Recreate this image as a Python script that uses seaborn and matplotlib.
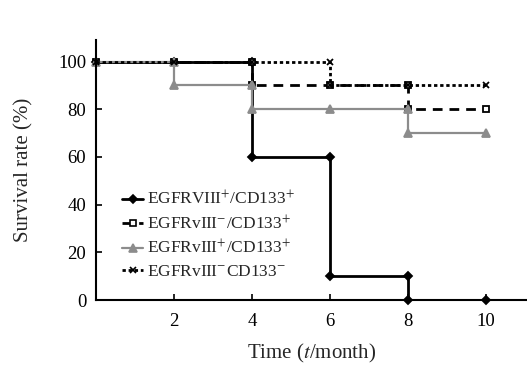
import pandas as pd
import matplotlib.pyplot as plt
import seaborn as sns
from matplotlib.lines import Line2D

sns.set_theme(style="ticks")
plt.rcParams['font.family'] = ['Liberation Serif', 'DejaVu Serif']
plt.rcParams['mathtext.fontset'] = 'stix'

# Data: survival rate (%) at each time point (months)
months = [0, 2, 4, 6, 8, 10]
surv_pp = [100, 100, 60, 10, 0, 0]      # EGFRvIII+/CD133+
surv_mp = [100, 100, 90, 90, 80, 80]    # EGFRvIII-/CD133+
surv_pm = [100, 90, 80, 80, 70, 70]     # EGFRvIII+/CD133-
surv_mm = [100, 100, 100, 90, 90, 90]   # EGFRvIII-/CD133-

labels = [r'EGFRVIII$^{+}$/CD133$^{+}$',
          r'EGFRvIII$^{-}$/CD133$^{+}$',
          r'EGFRvIII$^{+}$/CD133$^{+}$',
          r'EGFRvIII$^{-}$CD133$^{-}$']
x_ticks = [2, 4, 6, 8, 10]
y_ticks = [0, 20, 40, 60, 80, 100]

styles = [
    dict(color='black', lw=2.0, ls='-', marker='D', ms=4.5, mfc='black'),
    dict(color='black', lw=2.0, ls=(0, (3.5, 2.5)), marker='s', ms=5, mfc='white'),
    dict(color='#8c8c8c', lw=1.6, ls='-', marker='^', ms=6, mfc='#8c8c8c'),
    dict(color='black', lw=2.0, ls=(0, (1.2, 1.0)), marker='x', ms=5, mfc='black'),
]

fig = plt.figure(figsize=(5.27, 3.65), dpi=100)
ax = fig.add_axes([0.182, 0.178, 0.818, 0.712])

handles = []
for vals, st, lab in zip([surv_pp, surv_mp, surv_pm, surv_mm], styles, labels):
    df = pd.DataFrame({'month': months, 'surv': vals})
    sns.lineplot(data=df, x='month', y='surv', ax=ax, color=st['color'],
                 lw=st['lw'], ls=st['ls'], drawstyle='steps-post')
    # markers at each time point, before and after a drop
    mx, my = [], []
    for i, (t, v) in enumerate(zip(months, vals)):
        mx.append(t)
        my.append(v)
        if i > 0 and vals[i - 1] != v:
            mx.append(t)
            my.append(vals[i - 1])
    ax.plot(mx, my, ls='none', marker=st['marker'], ms=st['ms'],
            mfc=st['mfc'], mec=st['color'], mew=1.3, clip_on=False)
    handles.append(Line2D([], [], color=st['color'], lw=st['lw'], ls=st['ls'],
                          marker=st['marker'], ms=st['ms'] - 0.5, mfc=st['mfc'],
                          mec=st['color'], mew=1.2))

ax.set_xlim(0, 11.05)
ax.set_ylim(0, 109)
ax.set_xticks(x_ticks)
ax.set_yticks(y_ticks)
ax.tick_params(direction='in', length=4, width=1.2, labelsize=13.5, colors='black')
ax.tick_params(axis='x', pad=9)
ax.tick_params(axis='y', pad=7)
for s in ['top', 'right']:
    ax.spines[s].set_visible(False)
for s in ['left', 'bottom']:
    ax.spines[s].set_linewidth(1.5)
    ax.spines[s].set_color('black')

ax.set_xlabel(r'Time ($\it{t}$/month)', fontsize=15, labelpad=9)
ax.set_ylabel('Survival rate (%)', fontsize=15, labelpad=18)

ax.legend(handles, labels, loc='upper left', bbox_to_anchor=(0.045, 0.45),
          frameon=False, fontsize=12.5, handlelength=1.2, handletextpad=0.2,
          labelspacing=0.35, borderaxespad=0)

fig.savefig('out.png', dpi=100)
